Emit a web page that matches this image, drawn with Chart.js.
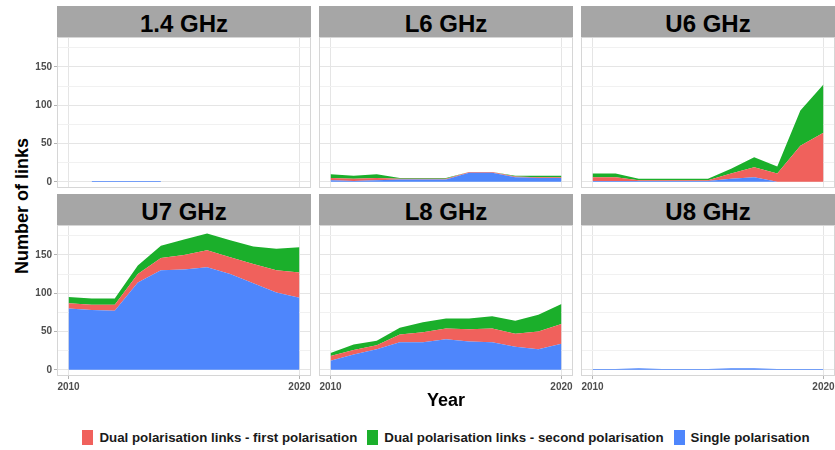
<!DOCTYPE html>
<html>
<head>
<meta charset="utf-8">
<script src="https://cdn.jsdelivr.net/npm/chart.js@4.4.0/dist/chart.umd.min.js"></script>
<style>
  body { margin: 0; width: 835px; height: 450px; overflow: hidden; position: relative; background: #fff;
         font-family: "Liberation Sans", Arial, sans-serif; }
  canvas { position: absolute; }
  .strip { position: absolute; height: 31px; background: #a6a6a6; color: #000; font-weight: bold;
           font-size: 24px; line-height: 35px; text-align: center; overflow: hidden; }
  #ytitle { position: absolute; left: 22px; top: 206px; transform: translate(-50%, -50%) rotate(-90deg);
            font-weight: bold; font-size: 18px; white-space: nowrap; color: #000; }
  #legend { position: absolute; left: 57px; width: 778px; top: 428px; height: 18px; display: flex;
            justify-content: center; align-items: center; font-weight: bold; font-size: 13.3px; color: #1a1a1a; }
  #legend .key { width: 11px; height: 15px; margin-right: 6px; }
  #legend .item { display: flex; align-items: center; margin: 0 5px; white-space: nowrap; }
</style>
</head>
<body>
<div id="ytitle">Number of links</div>
<div id="legend"></div>
<script>
// years on the x axis
const years = [2010, 2011, 2012, 2013, 2014, 2015, 2016, 2017, 2018, 2019, 2020];
const xTickYears = [2010, 2020];
const yTickValues = [0, 50, 100, 150];
const yGridValues = [0, 25, 50, 75, 100, 125, 150, 175];

const seriesNames = ['Single polarisation', 'Dual polarisation links - first polarisation', 'Dual polarisation links - second polarisation'];
const bands = ['1.4 GHz', 'L6 GHz', 'U6 GHz', 'U7 GHz', 'L8 GHz', 'U8 GHz'];

// number of links per band (single / first / second polarisation)
const single14 = [null, 1, 1, 1, 1, null, null, null, null, null, null];
const first14  = [null, null, null, null, null, null, null, null, null, null, null];
const second14 = [null, null, null, null, null, null, null, null, null, null, null];

const singleL6 = [2, 1, 2, 3, 3, 3, 12, 12, 6, 5, 5];
const firstL6  = [3, 3, 3, 1, 1, 1, 1, 1, 1, 1, 1];
const secondL6 = [5, 4, 5, 1, 1, 1, 0, 0, 1, 2, 2];

const singleU6 = [1, 1, 1, 1, 1, 1, 4, 6, 0, 0, 0];
const firstU6  = [5, 5, 1, 1, 1, 1, 7, 13, 11, 47, 64];
const secondU6 = [5, 5, 2, 2, 2, 2, 6, 13, 9, 46, 63];

const singleU7 = [80, 78, 77, 114, 130, 131, 134, 125, 113, 101, 94];
const firstU7  = [7, 7, 8, 11, 16, 19, 22, 22, 25, 29, 33];
const secondU7 = [8, 8, 8, 11, 16, 20, 22, 22, 23, 28, 33];

const singleL8 = [12, 20, 27, 36, 36, 40, 37, 36, 30, 27, 34];
const firstL8  = [6, 6, 5, 10, 13, 14, 16, 18, 17, 23, 26];
const secondL8 = [4, 7, 6, 9, 13, 13, 14, 16, 17, 22, 26];

const singleU8 = [1, 1, 2, 1, 1, 1, 2, 2, 1, 1, 1];
const firstU8  = [null, null, null, null, null, null, null, null, null, null, null];
const secondU8 = [null, null, null, null, null, null, null, null, null, null, null];

const panelData = [
  [single14, first14, second14],
  [singleL6, firstL6, secondL6],
  [singleU6, firstU6, secondU6],
  [singleU7, firstU7, secondU7],
  [singleL8, firstL8, secondL8],
  [singleU8, firstU8, secondU8]
];

const colors = ['#4E86FC', '#F0615C', '#1BAF2B'];

// layout of the facet grid
const colLeft = [57, 319, 581];
const plotTop = [37, 225];
const plotW = 254, plotH = 151, axisW = 40, axisH = 36, padTop = 10, padRight = 6;

Chart.defaults.font.family = '"Liberation Sans", Arial, sans-serif';

const panelBorder = {
  id: 'panelBorder',
  afterDraw(chart) {
    const { ctx, chartArea: a } = chart;
    ctx.save();
    ctx.strokeStyle = '#d6d6d6';
    ctx.lineWidth = 1;
    ctx.strokeRect(a.left + 0.5, a.top + 0.5, a.width - 1, a.height - 1);
    ctx.restore();
  }
};

bands.forEach((band, i) => {
  const col = i % 3, row = Math.floor(i / 3);
  const showY = col === 0, showX = row === 1;

  const strip = document.createElement('div');
  strip.className = 'strip';
  strip.textContent = band;
  strip.style.left = colLeft[col] + 'px';
  strip.style.width = plotW + 'px';
  strip.style.top = (plotTop[row] - 31) + 'px';
  document.body.appendChild(strip);

  const canvas = document.createElement('canvas');
  canvas.width = axisW + plotW + padRight;
  canvas.height = padTop + plotH + axisH;
  canvas.style.left = (colLeft[col] - axisW) + 'px';
  canvas.style.top = (plotTop[row] - padTop) + 'px';
  document.body.appendChild(canvas);

  const [single, first, second] = panelData[i];

  new Chart(canvas, {
    type: 'line',
    data: {
      labels: years,
      datasets: [
        { label: seriesNames[0], data: single, backgroundColor: colors[0], borderColor: colors[0], fill: 'origin' },
        { label: seriesNames[1], data: first, backgroundColor: colors[1], borderColor: colors[1], fill: '-1' },
        { label: seriesNames[2], data: second, backgroundColor: colors[2], borderColor: colors[2], fill: '-1' }
      ]
    },
    options: {
      responsive: false,
      animation: false,
      events: [],
      layout: { padding: { top: padTop, right: padRight, left: 0, bottom: 0 } },
      elements: {
        line: { borderWidth: 0, tension: 0 },
        point: { radius: 0 }
      },
      plugins: {
        legend: { display: false },
        tooltip: { enabled: false }
      },
      scales: {
        x: {
          offset: true,
          afterBuildTicks: s => { s.ticks = xTickYears.map(y => ({ value: years.indexOf(y) })); },
          afterFit: s => { s.height = axisH; },
          grid: { offset: false, color: '#e5e5e5', drawTicks: showX, tickLength: 3, tickColor: '#b3b3b3' },
          border: { display: false },
          ticks: { display: showX, color: '#4d4d4d', font: { size: 10, weight: 'bold' }, padding: 2, maxRotation: 0, autoSkip: false },
          title: { display: i === 4, text: 'Year', color: '#000', font: { size: 18, weight: 'bold' }, padding: 0 }
        },
        y: {
          stacked: true,
          min: -8,
          max: 189,
          afterBuildTicks: s => { s.ticks = yGridValues.map(v => ({ value: v })); },
          afterFit: s => { s.width = axisW; },
          grid: {
            color: c => yTickValues.includes(c.tick.value) ? '#e5e5e5' : '#f1f1f1',
            drawTicks: showY,
            tickLength: 3,
            tickColor: c => yTickValues.includes(c.tick.value) ? '#b3b3b3' : 'rgba(0,0,0,0)'
          },
          border: { display: false },
          ticks: {
            display: showY,
            callback: v => yTickValues.includes(v) ? v : '',
            color: '#4d4d4d',
            font: { size: 10, weight: 'bold' },
            padding: 2
          }
        }
      }
    },
    plugins: [panelBorder]
  });
});

// shared legend (ggplot order)
const legend = document.getElementById('legend');
[1, 2, 0].forEach(k => {
  const item = document.createElement('div');
  item.className = 'item';
  const key = document.createElement('div');
  key.className = 'key';
  key.style.background = colors[k];
  const txt = document.createElement('span');
  txt.textContent = seriesNames[k];
  item.appendChild(key);
  item.appendChild(txt);
  legend.appendChild(item);
});
</script>
</body>
</html>
